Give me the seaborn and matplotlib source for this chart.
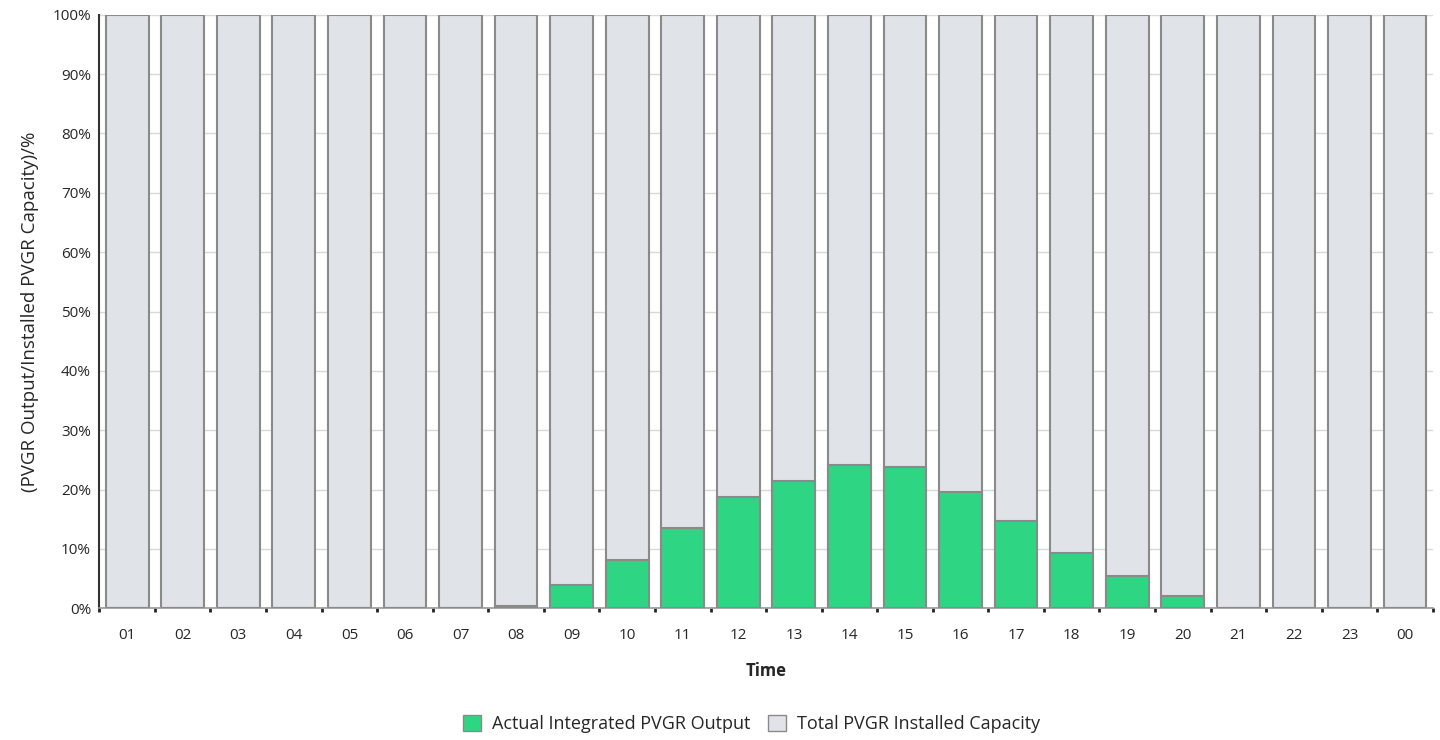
import pandas as pd
import seaborn as sns
import matplotlib.pyplot as plt
from matplotlib.ticker import FixedLocator, PercentFormatter
from matplotlib.patches import Patch

# dados do gráfico
horas = ["01", "02", "03", "04", "05", "06", "07", "08", "09", "10", "11", "12",
         "13", "14", "15", "16", "17", "18", "19", "20", "21", "22", "23", "00"]
producao = [0, 0, 0, 0, 0, 0, 0, 0.4, 3.9, 8.1, 13.5, 18.7,
            21.4, 24.1, 23.8, 19.6, 14.7, 9.3, 5.4, 2.0, 0, 0, 0, 0]
capacidade = [100] * 24

df = pd.DataFrame({"Time": horas, "Actual": producao, "Total": capacidade})

verde = "#2ed683"
cinza = "#e0e3e7"
borda = "#8a8a8a"

sns.set_style("white")
plt.rcParams["font.family"] = ["Open Sans", "DejaVu Sans"]

fig, graf = plt.subplots(figsize=(14.4, 7.4), dpi=100)
fig.subplots_adjust(left=0.069, right=0.995, top=0.98, bottom=0.178)

# barras de capacidade total atrás, produção na frente
sns.barplot(data=df, x="Time", y="Total", color=cinza, edgecolor=borda,
            linewidth=1.5, width=0.77, saturation=1, ax=graf, zorder=2)
sns.barplot(data=df, x="Time", y="Actual", color=verde, edgecolor=borda,
            linewidth=1.5, width=0.77, saturation=1, ax=graf, zorder=3)

graf.set_xlim(-0.5, 23.5)
graf.set_ylim(0, 100)
graf.set_yticks(range(0, 101, 10))
graf.yaxis.set_major_formatter(PercentFormatter(decimals=0))
graf.grid(axis="y", color="#d9d9d9", linewidth=1, zorder=0)
graf.set_axisbelow(True)

# marcas entre as barras
graf.xaxis.set_minor_locator(FixedLocator([i + 0.5 for i in range(-1, 24)]))
graf.tick_params(axis="x", which="minor", length=3, width=2, color="#222222", bottom=True)
graf.tick_params(axis="x", which="major", length=0, pad=14, labelsize=11)
graf.tick_params(axis="y", length=0, pad=6, labelsize=11)

for lado in ["top", "right"]:
    graf.spines[lado].set_visible(False)
graf.spines["left"].set_color("#333333")
graf.spines["left"].set_linewidth(1.5)
graf.spines["bottom"].set_color("#999999")
graf.spines["bottom"].set_linewidth(1.2)

graf.set_xlabel("Time", fontdict={"fontsize": 12, "fontweight": "bold"}, labelpad=14)
graf.set_ylabel("(PVGR Output/Installed PVGR Capacity)/%", fontdict={"fontsize": 13.5}, labelpad=10)

itens = [Patch(facecolor=verde, edgecolor=borda, label="Actual Integrated PVGR Output"),
         Patch(facecolor=cinza, edgecolor=borda, label="Total PVGR Installed Capacity")]
fig.legend(handles=itens, loc="center", bbox_to_anchor=(0.522, 0.022), ncol=2, frameon=False,
           fontsize=13, handlelength=1.0, handleheight=1.0, columnspacing=1.0, handletextpad=0.6)

fig.savefig("out.png", dpi=100)
plt.close()
